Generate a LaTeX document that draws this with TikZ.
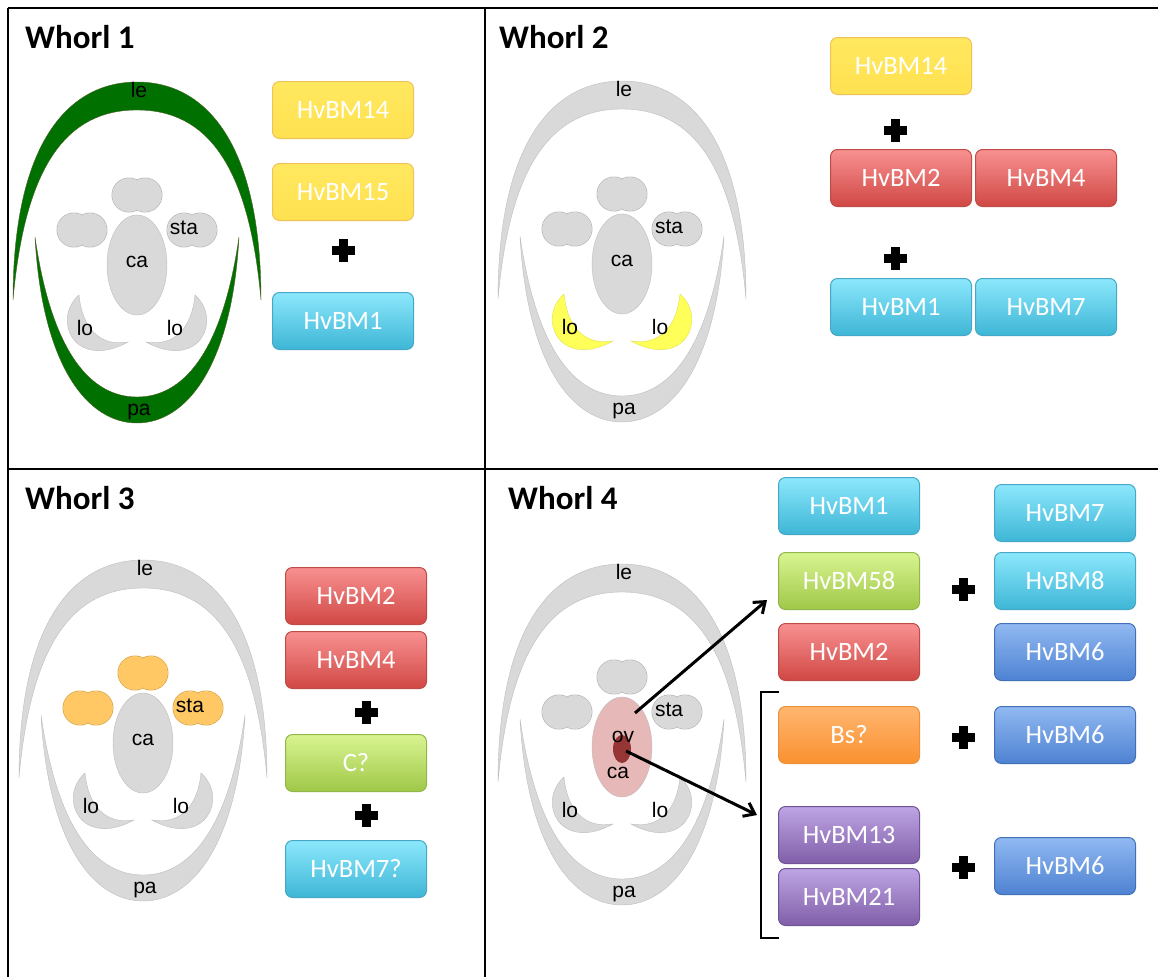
\documentclass[tikz,border=0pt]{standalone}
\usepackage{fontspec}
\usetikzlibrary{arrows.meta}

\newfontfamily\calibri{Carlito}
\newfontfamily\arial{Liberation Sans}

\definecolor{partgray}{RGB}{217,217,217}
\definecolor{partedge}{RGB}{190,190,190}
\definecolor{hullgreen}{RGB}{0,112,0}
\definecolor{hulledge}{RGB}{79,98,40}
\definecolor{lodyellow}{RGB}{255,255,90}
\definecolor{lodedge}{RGB}{225,225,70}
\definecolor{staorange}{RGB}{255,200,100}
\definecolor{staedge}{RGB}{225,170,70}
\definecolor{carppink}{RGB}{230,184,183}
\definecolor{ovred}{RGB}{150,54,52}

\tikzset{
  part/.style={font=\arial\fontsize{21}{21}\selectfont, inner sep=0pt},
  title/.style={font=\calibri\bfseries\fontsize{33}{33}\selectfont, anchor=base west, inner sep=0pt},
  gene/.style={rounded corners=7pt, minimum width=141pt, minimum height=57pt,
    inner sep=0pt, line width=1pt, text=white,
    font=\calibri\fontsize{26.5}{26.5}\selectfont},
  yellowgene/.style={gene, draw={rgb,255:red,240;green,195;blue,90},
    top color={rgb,255:red,255;green,232;blue,95}, bottom color={rgb,255:red,255;green,225;blue,80}},
  redgene/.style={gene, draw={rgb,255:red,190;green,75;blue,70},
    top color={rgb,255:red,248;green,145;blue,145}, bottom color={rgb,255:red,208;green,72;blue,68}},
  cyangene/.style={gene, draw={rgb,255:red,70;green,168;blue,198},
    top color={rgb,255:red,140;green,232;blue,252}, bottom color={rgb,255:red,62;green,182;blue,214}},
  greengene/.style={gene, draw={rgb,255:red,145;green,182;blue,75},
    top color={rgb,255:red,216;green,244;blue,145}, bottom color={rgb,255:red,160;green,200;blue,72}},
  orangegene/.style={gene, draw={rgb,255:red,235;green,145;blue,60},
    top color={rgb,255:red,255;green,182;blue,112}, bottom color={rgb,255:red,250;green,145;blue,48}},
  purplegene/.style={gene, draw={rgb,255:red,112;green,84;blue,150},
    top color={rgb,255:red,190;green,165;blue,228}, bottom color={rgb,255:red,128;green,94;blue,168}},
  bluegene/.style={gene, draw={rgb,255:red,66;green,112;blue,182},
    top color={rgb,255:red,145;green,185;blue,242}, bottom color={rgb,255:red,78;green,130;blue,210}},
  pointer/.style={line width=3pt, -{Straight Barb[length=10pt,width=15pt]}},
}

% heavy plus between two gene groups
\newcommand{\plusmark}[1]{%
  \fill (#1) +(-11.5,-4.5) rectangle +(11.5,4.5);
  \fill (#1) +(-4.5,-11.5) rectangle +(4.5,11.5);
}

% floral diagram, origin at the carpel centre
% #1 hull fill, #2 hull edge, #3 lodicule fill, #4 lodicule edge, #5 stamen fill, #6 stamen edge, #7 carpel fill
\newcommand{\floret}[7]{%
  % lemma
  \filldraw[fill=#1, draw=#2, thin] (-124,35) .. controls (-124,-120) and (-70,-183) .. (0,-183)
    .. controls (70,-183) and (124,-120) .. (124,35)
    .. controls (112,-100) and (70,-155) .. (0,-155)
    .. controls (-70,-155) and (-112,-100) .. cycle;
  % palea
  \filldraw[fill=#1, draw=#2, thin] (-102,-28) .. controls (-95,100) and (-50,158) .. (0,158)
    .. controls (50,158) and (95,100) .. (102,-28)
    .. controls (85,90) and (45,132) .. (0,132)
    .. controls (-45,132) and (-85,90) .. cycle;
  % lodicules
  \filldraw[fill=#3, draw=#4, thin] (-58,30) .. controls (-86,55) and (-62,106) .. (-9,77)
    .. controls (-38,82) and (-55,62) .. cycle;
  \filldraw[fill=#3, draw=#4, thin] (58,30) .. controls (86,55) and (62,106) .. (9,77)
    .. controls (38,82) and (55,62) .. cycle;
  % stamens
  \foreach \sx/\sy in {0/-70, -55/-35, 55/-35} {
    \draw[#6, line width=1pt] (\sx-8,\sy) circle (17) (\sx+8,\sy) circle (17);
    \fill[#5] (\sx-8,\sy) circle (16.5) (\sx+8,\sy) circle (16.5);
  }
  % carpel
  \filldraw[fill=#7, draw=partedge, thin] (0,0) ellipse (30 and 50);
  \node[part] (le) at (2,-175) {le};
  \node[part] (pa) at (2,147) {pa};
  \node[part] (sta) at (47,-37) {sta};
  \node[part] (lo1) at (-52,63) {lo};
  \node[part] (lo2) at (38,63) {lo};
}

\begin{document}
\begin{tikzpicture}[x=1pt, y=-1pt]
\useasboundingbox (0,0) rectangle (1158,977);

% panel grid
\draw[line width=1.8pt] (8,8) -- (1158,8);
\draw[line width=1.8pt] (8,8) -- (8,977);
\draw[line width=1.8pt] (485,8) -- (485,977);
\draw[line width=1.8pt] (8,469) -- (1158,469);

\node[title] (t1) at (25,48) {Whorl 1};
\node[title] (t2) at (499,48) {Whorl 2};
\node[title] (t3) at (25,509) {Whorl 3};
\node[title] (t4) at (508,509) {Whorl 4};

% Whorl 1
\begin{scope}[shift={(137,265)}, name prefix=w1-]
  \floret{hullgreen}{hulledge}{partgray}{partedge}{partgray}{partedge}{partgray}
  \node[part] (ca) at (0,-3) {ca};
\end{scope}
\node[yellowgene] (w1-bm14) at (343,110) {HvBM14};
\node[yellowgene] (w1-bm15) at (343,192) {HvBM15};
\plusmark{343,250}
\node[cyangene] (w1-bm1) at (343,321) {HvBM1};

% Whorl 2
\begin{scope}[shift={(622,264)}, name prefix=w2-]
  \floret{partgray}{partedge}{lodyellow}{lodedge}{partgray}{partedge}{partgray}
  \node[part] (ca) at (0,-3) {ca};
\end{scope}
\node[yellowgene] (w2-bm14) at (901,66) {HvBM14};
\plusmark{895,130}
\node[redgene] (w2-bm2) at (901,178) {HvBM2};
\node[redgene] (w2-bm4) at (1046,178) {HvBM4};
\plusmark{895,258}
\node[cyangene] (w2-bm1) at (901,307) {HvBM1};
\node[cyangene] (w2-bm7) at (1046,307) {HvBM7};

% Whorl 3
\begin{scope}[shift={(143,743)}, name prefix=w3-]
  \floret{partgray}{partedge}{partgray}{partedge}{staorange}{staedge}{partgray}
  \node[part] (ca) at (0,-3) {ca};
\end{scope}
\node[redgene] (w3-bm2) at (356,596) {HvBM2};
\node[redgene] (w3-bm4) at (356,660) {HvBM4};
\plusmark{366,712}
\node[greengene] (w3-c) at (356,763) {C?};
\plusmark{366,815}
\node[cyangene] (w3-bm7) at (356,869) {HvBM7?};

% Whorl 4
\begin{scope}[shift={(622,747)}, name prefix=w4-]
  \floret{partgray}{partedge}{partgray}{partedge}{partgray}{partedge}{carppink}
  \fill[ovred] (0,2) ellipse (9 and 14);
  \node[part] (ov) at (1,-10) {ov};
  \node[part] (ca) at (-4,26) {ca};
  \coordinate (ovc) at (4,4);
  \coordinate (cup) at (13,-34);
\end{scope}
\node[cyangene] (w4-bm1) at (849,506) {HvBM1};
\node[greengene] (w4-bm58) at (849,581) {HvBM58};
\node[redgene] (w4-bm2) at (849,652) {HvBM2};
\node[orangegene] (w4-bs) at (849,735) {Bs?};
\node[purplegene] (w4-bm13) at (849,835) {HvBM13};
\node[purplegene] (w4-bm21) at (849,897) {HvBM21};
\node[cyangene] (w4-bm7) at (1065,513) {HvBM7};
\node[cyangene] (w4-bm8) at (1065,581) {HvBM8};
\node[bluegene] (w4-bm6a) at (1065,652) {HvBM6};
\node[bluegene] (w4-bm6b) at (1065,735) {HvBM6};
\node[bluegene] (w4-bm6c) at (1065,866) {HvBM6};
\plusmark{963,589}
\plusmark{963,737}
\plusmark{963,867}

% bracket round the ovule genes
\coordinate (brtop) at (761,692);
\coordinate (brbot) at (761,938);
\coordinate (brmid) at (757,815);
\draw[line width=1.6pt] ([xshift=18]brtop) -- (brtop) -- (brbot) -- ([xshift=18]brbot);

\coordinate (a58) at (767,600);
\draw[pointer] (w4-cup) -- (a58);
\draw[pointer] (w4-ovc) -- (brmid);
\end{tikzpicture}
\end{document}
